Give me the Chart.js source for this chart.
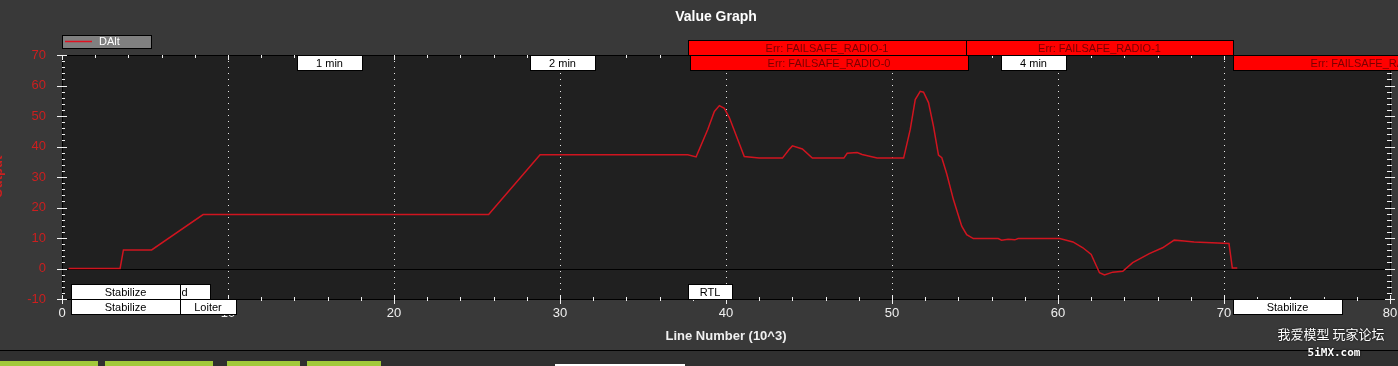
<!DOCTYPE html>
<html>
<head>
<meta charset="utf-8">
<script src="https://cdn.jsdelivr.net/npm/chart.js@4/dist/chart.umd.min.js"></script>
<style>
  html, body { margin: 0; padding: 0; background: #393939; }
  #wrap { width: 1398px; height: 366px; }
</style>
</head>
<body>
<div id="wrap"><canvas id="myChart" width="1398" height="366"></canvas></div>
<script>
// DAlt trace (x in thousands of lines)
var lineX = [0.4, 3.5, 3.7, 5.4, 8.5, 25.7, 28.8, 37.7, 38.2, 38.9, 39.3, 39.6, 39.9, 40.2, 41.1, 42.0,
  43.4, 43.8, 44.0, 44.6, 45.2, 47.1, 47.3, 47.9, 48.2, 49.1, 50.7, 51.1, 51.4, 51.7, 51.9, 52.2,
  52.5, 52.8, 53.0, 53.3, 53.7, 54.2, 54.5, 54.9, 56.4, 56.6, 57.0, 57.4, 57.6, 60.1, 60.9, 61.5,
  62.0, 62.3, 62.5, 62.8, 63.3, 63.9, 64.5, 65.5, 66.3, 67.0, 67.6, 68.2, 70.3, 70.5, 70.8];
var dAlt = [0, 0, 6.1, 6.1, 17.7, 17.7, 37.3, 37.3, 36.6, 45.6, 51.5, 53.4, 52.5, 49.5, 36.7, 36.2,
  36.2, 39.0, 40.2, 39.2, 36.2, 36.2, 37.8, 38.0, 37.4, 36.2, 36.2, 45.6, 55.4, 58.1, 57.8, 54.4,
  46.6, 37.2, 36.3, 31.0, 22.6, 13.9, 11.1, 9.8, 9.8, 9.3, 9.6, 9.4, 9.8, 9.8, 8.7, 6.8,
  4.6, 1.0, -1.4, -2.1, -1.2, -0.9, 1.9, 4.9, 6.8, 9.3, 9.0, 8.7, 8.2, 0.2, 0.2];

// flight modes, messages and minute marks (x = where the label starts)
var modeNames = ["AltHold", "Stabilize", "RTL", "Stabilize", "Loiter", "Stabilize"];
var modeX = [4.1, 0.54, 37.71, 0.54, 7.11, 70.54];
var errNames = ["Err: FAILSAFE_RADIO-1", "Err: FAILSAFE_RADIO-1", "Err: FAILSAFE_RADIO-0", "Err: FAILSAFE_RADIO-0"];
var errX = [37.71, 54.46, 37.83, 70.54];
var minuteNames = ["1 min", "2 min", "4 min"];
var minuteX = [14.16, 28.19, 56.57];
var gridX = [10, 20, 30, 40, 50, 60, 70];

var lineRed = "#d0141f";
var tickRed = "#cc1f1f";

// box widths and rows for the labels above
var modeW = [80, 109, 44, 109, 56, 109];
var modeRow = [284, 284, 284, 299, 299, 299];
var errW = [278, 267, 278, 278];
var errRow = [40, 40, 55, 55];

function box(ctx, x, y, w, h, fill, text, textColor) {
  ctx.fillStyle = fill;
  ctx.fillRect(x, y, w, h);
  ctx.strokeStyle = "#000";
  ctx.lineWidth = 1;
  ctx.strokeRect(x + 0.5, y + 0.5, w, h);
  ctx.fillStyle = textColor;
  ctx.font = "11px 'Liberation Sans', Arial, sans-serif";
  ctx.textAlign = "center";
  ctx.textBaseline = "middle";
  ctx.fillText(text, x + w / 2, y + h / 2 + 1);
}

var graphDecor = {
  id: "graphDecor",
  beforeDraw: function(chart) {
    var ctx = chart.ctx, a = chart.chartArea;
    ctx.save();
    ctx.fillStyle = "#393939";
    ctx.fillRect(0, 0, chart.width, chart.height);
    ctx.fillStyle = "#202020";
    ctx.fillRect(a.left, a.top, a.right - a.left, a.bottom - a.top);
    ctx.restore();
  },
  beforeDatasetsDraw: function(chart) {
    var ctx = chart.ctx, a = chart.chartArea;
    var xs = chart.scales.x, ys = chart.scales.y;
    ctx.save();
    ctx.strokeStyle = "#e8e8e8";
    ctx.lineWidth = 1;
    ctx.setLineDash([1, 5]);
    for (var i = 0; i < gridX.length; i++) {
      var px = Math.round(xs.getPixelForValue(gridX[i])) + 0.5;
      ctx.beginPath();
      ctx.moveTo(px, a.top);
      ctx.lineTo(px, a.bottom);
      ctx.stroke();
    }
    ctx.setLineDash([]);
    ctx.strokeStyle = "#000";
    var py = Math.round(ys.getPixelForValue(0)) + 0.5;
    ctx.beginPath();
    ctx.moveTo(a.left, py);
    ctx.lineTo(a.right, py);
    ctx.stroke();
    ctx.restore();
  },
  afterDraw: function(chart) {
    var ctx = chart.ctx, a = chart.chartArea;
    var xs = chart.scales.x, ys = chart.scales.y;
    var i, p;
    ctx.save();

    // frame
    ctx.strokeStyle = "#000";
    ctx.lineWidth = 1;
    ctx.strokeRect(a.left + 0.5, a.top + 0.5, a.right - a.left, a.bottom - a.top);

    // ticks
    ctx.strokeStyle = "#f0f0f0";
    ctx.beginPath();
    for (var v = 0; v <= 80; v += 2) {
      p = Math.round(xs.getPixelForValue(v)) + 0.5;
      var major = v % 10 == 0;
      ctx.moveTo(p, a.bottom - (major ? 4 : 2));
      ctx.lineTo(p, a.bottom + (major ? 5 : 2));
      ctx.moveTo(p, a.top);
      ctx.lineTo(p, a.top + (major ? 5 : 3));
    }
    for (v = -10; v <= 70; v += 2) {
      p = Math.round(ys.getPixelForValue(v)) + 0.5;
      var majorY = v % 10 == 0;
      ctx.moveTo(a.left - (majorY ? 5 : 0), p);
      ctx.lineTo(a.left + (majorY ? 5 : 3), p);
      ctx.moveTo(a.right - (majorY ? 5 : 3), p);
      ctx.lineTo(a.right + (majorY ? 5 : 2), p);
    }
    ctx.stroke();

    // event labels
    for (i = 0; i < minuteNames.length; i++) {
      box(ctx, Math.round(xs.getPixelForValue(minuteX[i])), 55, 65, 15, "#fff", minuteNames[i], "#000");
    }
    for (i = 0; i < errNames.length; i++) {
      box(ctx, Math.round(xs.getPixelForValue(errX[i])), errRow[i], errW[i], 15, "#ff0000", errNames[i], "#7a0000");
    }
    for (i = 0; i < modeNames.length; i++) {
      box(ctx, Math.round(xs.getPixelForValue(modeX[i])), modeRow[i], modeW[i], 15, "#fff", modeNames[i], "#000");
    }

    // legend
    ctx.fillStyle = "#808080";
    ctx.fillRect(62, 35, 89, 13);
    ctx.strokeStyle = "#000";
    ctx.strokeRect(62.5, 35.5, 89, 13);
    ctx.strokeStyle = "#e01020";
    ctx.lineWidth = 1.5;
    ctx.beginPath();
    ctx.moveTo(65, 41.5);
    ctx.lineTo(92, 41.5);
    ctx.stroke();
    ctx.fillStyle = "#fff";
    ctx.font = "11px 'Liberation Sans', Arial, sans-serif";
    ctx.textAlign = "left";
    ctx.textBaseline = "middle";
    ctx.fillText("DAlt", 99, 42);

    // title
    ctx.font = "bold 14px 'Liberation Sans', Arial, sans-serif";
    ctx.textAlign = "center";
    ctx.fillText("Value Graph", 716, 17);

    // y title, mostly off the left edge
    ctx.save();
    ctx.translate(-2, 177);
    ctx.rotate(-Math.PI / 2);
    ctx.fillStyle = tickRed;
    ctx.font = "bold 13px 'Liberation Sans', Arial, sans-serif";
    ctx.fillText("Output", 0, 0);
    ctx.restore();

    // bottom strip
    ctx.fillStyle = "#000";
    ctx.fillRect(0, 350, chart.width, 1);
    ctx.fillStyle = "#303030";
    ctx.fillRect(0, 351, chart.width, 15);
    ctx.fillStyle = "#a2c93a";
    var btn = [[0, 98], [105, 108], [227, 73], [307, 74]];
    for (i = 0; i < btn.length; i++) ctx.fillRect(btn[i][0], 361, btn[i][1], 5);
    ctx.fillStyle = "#fff";
    ctx.fillRect(555, 364, 130, 2);

    // watermark
    ctx.fillStyle = "#fff";
    ctx.shadowColor = "#000";
    ctx.shadowBlur = 2;
    ctx.font = "13px 'Noto Sans CJK SC', sans-serif";
    ctx.fillText("我爱模型 玩家论坛", 1331, 334);
    ctx.font = "bold 11px 'DejaVu Sans Mono', monospace";
    ctx.fillText("5iMX.com", 1334, 353);
    ctx.restore();
  }
};

var points = [];
for (var i = 0; i < lineX.length; i++) points.push({ x: lineX[i], y: dAlt[i] });

new Chart("myChart", {
  type: "line",
  data: {
    datasets: [{
      label: "DAlt",
      data: points,
      borderColor: lineRed,
      borderWidth: 1.5,
      pointRadius: 0,
      tension: 0
    }]
  },
  options: {
    responsive: false,
    animation: false,
    layout: { padding: { top: 55, right: 8, bottom: 0, left: 0 } },
    plugins: { legend: { display: false }, title: { display: false }, tooltip: { enabled: false } },
    scales: {
      x: {
        type: "linear",
        min: 0,
        max: 80,
        afterFit: function(s) { s.height = 67; s.paddingLeft = 0; s.paddingRight = 0; },
        grid: { display: true, drawOnChartArea: false, drawTicks: false, color: "transparent" },
        border: { display: false },
        ticks: { stepSize: 10, color: "#f0f0f0", padding: 7, font: { size: 13, family: "'Liberation Sans', Arial, sans-serif" } },
        title: {
          display: true,
          text: "Line Number (10^3)",
          color: "#f0f0f0",
          padding: { top: 0, bottom: 22 },
          font: { size: 13, weight: "bold", family: "'Liberation Sans', Arial, sans-serif" }
        }
      },
      y: {
        min: -10,
        max: 70,
        afterFit: function(s) { s.width = 62; s.paddingTop = 0; s.paddingBottom = 0; },
        grid: { display: true, drawOnChartArea: false, drawTicks: false, color: "transparent" },
        border: { display: false },
        ticks: { stepSize: 10, color: tickRed, padding: 16, font: { size: 13, family: "'Liberation Sans', Arial, sans-serif" } }
      }
    }
  },
  plugins: [graphDecor]
});
</script>
</body>
</html>
